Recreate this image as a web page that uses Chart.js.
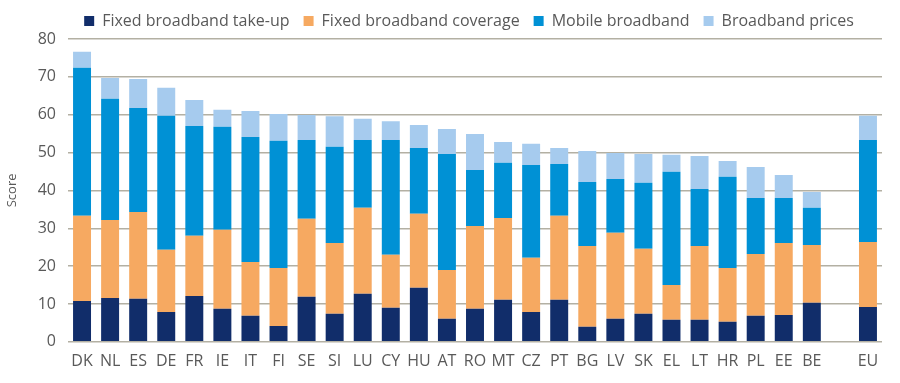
<!DOCTYPE html>
<html>
<head>
<meta charset="utf-8">
<script src="https://cdn.jsdelivr.net/npm/chart.js@4"></script>
<style>
  html, body { margin: 0; padding: 0; background: #fff; }
  #wrap { width: 900px; height: 383px; }
</style>
</head>
<body>
<div id="wrap"><canvas id="chart" width="900" height="383"></canvas></div>
<script>
// countries, with an empty slot before the EU average
const countries = ['DK', 'NL', 'ES', 'DE', 'FR', 'IE', 'IT', 'FI', 'SE', 'SI', 'LU', 'CY', 'HU', 'AT',
  'RO', 'MT', 'CZ', 'PT', 'BG', 'LV', 'SK', 'EL', 'LT', 'HR', 'PL', 'EE', 'BE', '', 'EU'];

const takeUp = [10.8, 11.6, 11.4, 7.9, 12.1, 8.7, 6.9, 4.2, 11.9, 7.4, 12.7, 9.0, 14.3, 6.1,
  8.7, 11.1, 7.9, 11.1, 4.0, 6.1, 7.4, 5.8, 5.8, 5.3, 6.9, 7.1, 10.3, null, 9.2];
const coverage = [22.5, 20.6, 22.9, 16.4, 15.9, 20.9, 14.2, 15.3, 20.6, 18.7, 22.7, 14.0, 19.5, 12.9,
  21.9, 21.6, 14.3, 22.2, 21.3, 22.7, 17.2, 9.2, 19.5, 14.2, 16.3, 19.0, 15.3, null, 17.2];
const mobile = [39.1, 32.0, 27.5, 35.4, 29.0, 27.2, 33.0, 33.6, 20.8, 25.4, 17.9, 30.3, 17.4, 30.6,
  14.8, 14.6, 24.5, 13.7, 16.9, 14.2, 17.4, 29.9, 15.1, 24.1, 14.8, 11.9, 9.8, null, 26.9];
const prices = [4.2, 5.5, 7.6, 7.4, 6.9, 4.5, 6.9, 7.1, 6.6, 8.1, 5.6, 5.0, 6.1, 6.6,
  9.5, 5.5, 5.6, 4.2, 8.2, 6.9, 7.6, 4.5, 8.7, 4.2, 8.2, 6.1, 4.2, null, 6.4];

const yTicks = [0, 10, 20, 30, 40, 50, 60, 70, 80];

const textColor = '#595959';
const gridColor = '#b3b0a3';
const fontFamily = '"Open Sans", "Noto Sans", sans-serif';

function series(label, data, color) {
  return {
    label,
    data,
    backgroundColor: color,
    borderWidth: 0,
    categoryPercentage: 1,
    barPercentage: 0.64
  };
}

// the legend sits centred over the plot area rather than the whole canvas
const legendShift = {
  id: 'legendShift',
  afterLayout(chart) {
    const lg = chart.legend;
    if (!lg) return;
    lg.left += 28;
    lg.right += 28;
  }
};

new Chart(document.getElementById('chart'), {
  type: 'bar',
  data: {
    labels: countries,
    datasets: [
      series('Fixed broadband take-up', takeUp, '#112d6a'),
      series('Fixed broadband coverage', coverage, '#f6a961'),
      series('Mobile broadband', mobile, '#0091d5'),
      series('Broadband prices', prices, '#a6cbee')
    ]
  },
  plugins: [legendShift],
  options: {
    responsive: false,
    animation: false,
    layout: { padding: { top: -1, right: 18, bottom: 10, left: 0 } },
    plugins: {
      legend: {
        position: 'top',
        labels: {
          boxWidth: 10,
          boxHeight: 10,
          padding: 14,
          color: textColor,
          font: { family: fontFamily, size: 16 }
        }
      },
      tooltip: { enabled: false }
    },
    scales: {
      x: {
        stacked: true,
        grid: { display: false },
        border: { display: false },
        ticks: {
          color: textColor,
          font: { family: fontFamily, size: 16 },
          maxRotation: 0,
          autoSkip: false,
          padding: 2
        }
      },
      y: {
        stacked: true,
        min: 0,
        max: 80,
        afterBuildTicks: axis => { axis.ticks = yTicks.map(v => ({ value: v })); },
        afterFit: axis => { axis.width = 68; },
        grid: { color: gridColor, lineWidth: 1.5, drawTicks: false },
        border: { display: false },
        ticks: {
          color: textColor,
          font: { family: fontFamily, size: 16 },
          padding: 12
        },
        title: {
          display: true,
          text: 'Score',
          color: textColor,
          font: { family: fontFamily, size: 13 },
          padding: { top: 4, bottom: 0 }
        }
      }
    }
  }
});
</script>
</body>
</html>
